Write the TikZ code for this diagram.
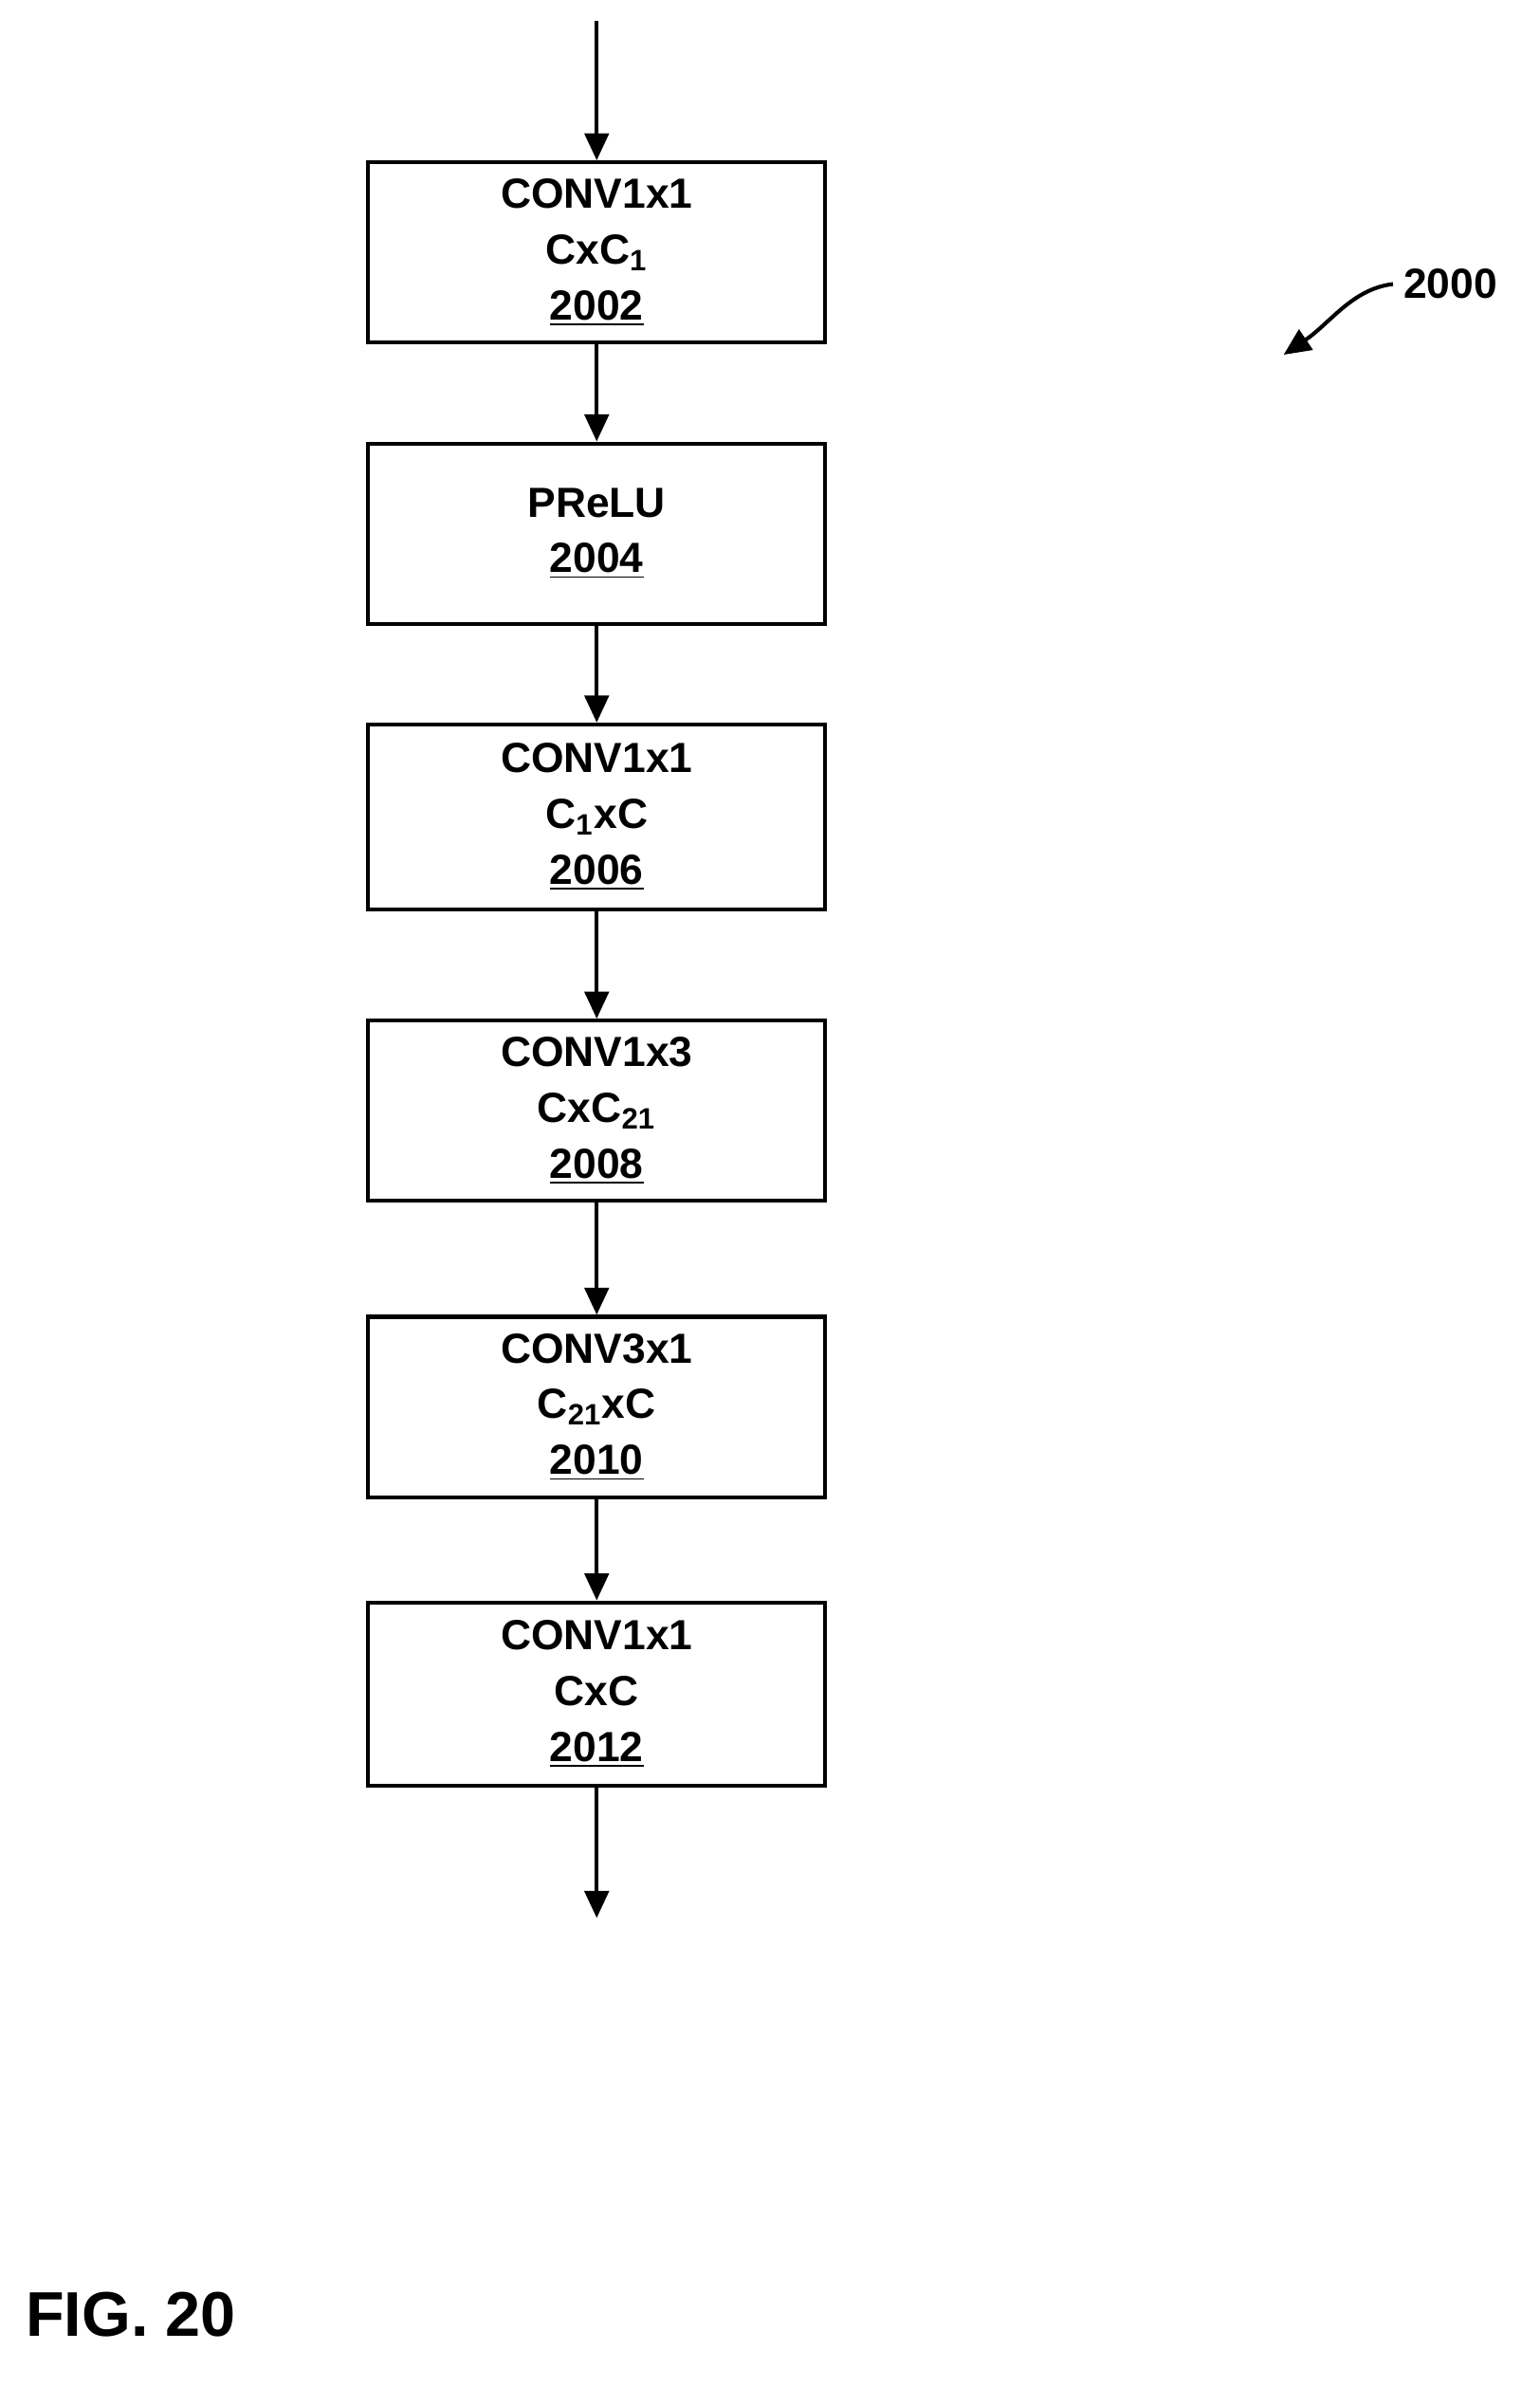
\documentclass[tikz,border=0pt]{standalone}
\usepackage{fontspec}
\setmainfont{Liberation Sans}
\usetikzlibrary{arrows.meta}
\begin{document}
\begin{tikzpicture}[x=0.5pt,y=-0.5pt,
  box/.style={draw,line width=1.3pt,minimum width=152pt,minimum height=60pt,align=center,font=\bfseries\fontsize{14}{18.5}\selectfont,inner sep=0pt},
  arr/.style={line width=1.3pt,-{Triangle[length=9pt,width=8pt]}}]
\useasboundingbox (0,0) rectangle (1024,1588);
\node[box] (b1) at (397,168) {CONV1x1\\CxC\textsubscript{1}\\\underline{2002}};
\node[box] (b2) at (397,355) {PReLU\\\underline{2004}};
\node[box,minimum height=61.5pt] (b3) at (397,543.5) {CONV1x1\\C\textsubscript{1}xC\\\underline{2006}};
\node[box] (b4) at (397,739) {CONV1x3\\CxC\textsubscript{21}\\\underline{2008}};
\node[box] (b5) at (397,936) {CONV3x1\\C\textsubscript{21}xC\\\underline{2010}};
\node[box,minimum height=61pt] (b6) at (397,1127) {CONV1x1\\CxC\\\underline{2012}};
\coordinate (in) at (397,14);
\coordinate (out) at (397,1276);
\draw[arr] (in) -- (b1);
\draw[arr] (b1) -- (b2);
\draw[arr] (b2) -- (b3);
\draw[arr] (b3) -- (b4);
\draw[arr] (b4) -- (b5);
\draw[arr] (b5) -- (b6);
\draw[arr] (b6) -- (out);
\node[font=\bfseries\fontsize{14}{16}\selectfont] (lbl) at (965,189) {2000};
\coordinate (tip) at (854,236);
\draw[arr] (lbl.west) .. controls (900,192) and (885,215) .. (tip);
\node[font=\bfseries\fontsize{21}{24}\selectfont,anchor=west] (fig) at (10,1540) {FIG. 20};
\end{tikzpicture}
\end{document}
